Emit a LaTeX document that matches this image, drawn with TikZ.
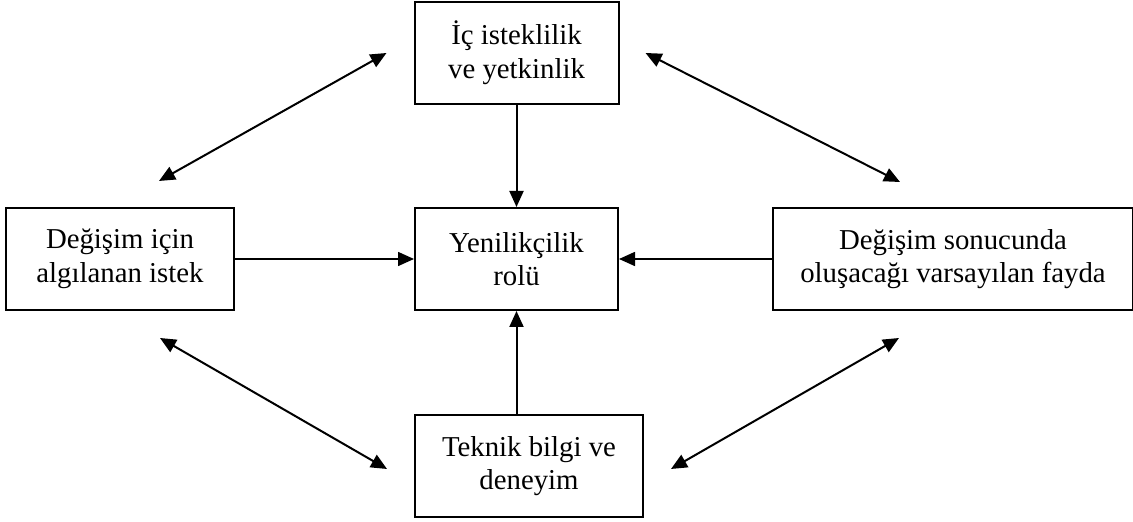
\documentclass[tikz,border=0pt]{standalone}
\usepackage{fontspec}
\setmainfont{Liberation Serif}
\usetikzlibrary{arrows.meta,positioning,calc}

\begin{document}
\begin{tikzpicture}[node distance=51pt,>={Triangle[length=8pt,width=7pt]},font=\fontsize{14.4}{16.8}\selectfont]
\tikzstyle{kutu}=[draw,line width=1pt,align=center,minimum height=51pt]
\tikzstyle{ok}=[->,line width=1pt]
\tikzstyle{cift}=[<->,line width=1pt]
\useasboundingbox (-258.25pt,-131.5pt) rectangle (308.25pt,129.5pt);
% kutular
\node[kutu,minimum width=101.5pt] (rol) {Yenilikçilik\\rolü};
\node[kutu,minimum width=102pt,above=51pt of rol] (ic) {İç isteklilik\\ve yetkinlik};
\node[kutu,minimum width=114pt,below=51.5pt of rol.south west,anchor=north west] (teknik) {Teknik bilgi ve\\deneyim};
\node[kutu,minimum width=114pt,left=89.5pt of rol] (istek) {Değişim için\\algılanan istek};
\node[kutu,minimum width=180pt,right=76.5pt of rol] (fayda) {Değişim sonucunda\\oluşacağı varsayılan fayda};
% cift okların uçları
\coordinate (a1) at ([shift={(19.5pt,13pt)}]istek.north);
\coordinate (a2) at ([shift={(-13.5pt,0pt)}]ic.west);
\coordinate (b1) at ([shift={(13pt,0pt)}]ic.east);
\coordinate (b2) at ([shift={(-26.5pt,12.5pt)}]fayda.north);
\coordinate (c1) at ([shift={(20pt,-13.5pt)}]istek.south);
\coordinate (c2) at ([shift={(-13.5pt,-1.5pt)}]teknik.west);
\coordinate (d1) at ([shift={(13.5pt,-1.5pt)}]teknik.east);
\coordinate (d2) at ([shift={(-27pt,-13.5pt)}]fayda.south);
% oklar
\draw[ok] (ic) -- (rol);
\draw[ok] (teknik.north -| rol) -- (rol.south);
\draw[ok,line width=0.8pt] (istek) -- (rol);
\draw[ok,line width=0.8pt] (fayda) -- (rol);
\draw[cift] (a1) -- (a2);
\draw[cift] (b1) -- (b2);
\draw[cift] (c1) -- (c2);
\draw[cift] (d1) -- (d2);
\end{tikzpicture}
\end{document}
